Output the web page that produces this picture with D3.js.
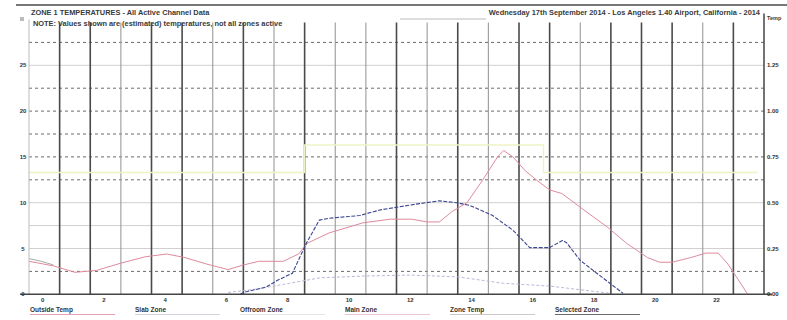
<!DOCTYPE html>
<html>
<head>
<meta charset="utf-8">
<script src="https://cdn.jsdelivr.net/npm/d3@7"></script>
<style>
  body { margin: 0; background: #fff; }
  svg { display: block; font-family: 'Liberation Sans', Arial, sans-serif; }
  .hdr { font-size: 7.4px; font-weight: bold; fill: #3a3a3a; }
  .tick-lbl { font-size: 6px; font-weight: bold; fill: #333; }
  .leg { font-size: 6.5px; font-weight: bold; fill: #333; }
</style>
</head>
<body>
<script>
'use strict';

// hours since start of day
const hourLines = d3.range(1, 24);
const heavyHours = [1, 2, 4, 5, 7, 9, 12, 14, 16, 17, 19, 20, 21, 23];
const hourLabels = ['0', '2', '4', '6', '8', '10', '12', '14', '16', '18', '20', '22'];
const hourLabelPos = [0.45, 2.45, 4.45, 6.45, 8.45, 10.45, 12.45, 14.45, 16.45, 18.45, 20.45, 22.45];

const leftTicks = [0, 5, 10, 15, 20, 25];
const rightTicks = ['0.00', '0.25', '0.50', '0.75', '1.00', '1.25'];
const dashedGrid = [2.5, 12.5, 15, 17.5, 20, 22.5, 27.5];
const lightGrid = [5, 7.5, 10, 25];

const legendNames = ['Outside Temp', 'Slab Zone', 'Offroom Zone', 'Main Zone', 'Zone Temp', 'Selected Zone'];

// series [hour, value]
const outsideTemp = [
  [0.0, 3.6], [0.8, 3.1], [1.5, 2.4], [2.2, 2.6], [3.0, 3.4], [3.8, 4.1], [4.5, 4.4],
  [5.1, 4.0], [5.8, 3.3], [6.5, 2.7], [7.0, 3.2], [7.5, 3.6], [8.3, 3.6], [8.8, 4.4],
  [9.1, 5.6], [9.8, 6.7], [10.9, 7.8], [11.8, 8.2], [12.5, 8.2], [13.0, 7.9], [13.4, 7.9],
  [13.8, 9.0], [14.3, 10.0], [14.8, 12.4], [15.3, 15.0], [15.5, 15.7], [15.8, 15.0],
  [16.2, 13.5], [16.6, 12.4], [17.0, 11.4], [17.4, 11.0], [18.0, 9.5], [18.9, 7.3],
  [19.5, 5.6], [20.2, 4.0], [20.6, 3.5], [21.0, 3.5], [21.6, 4.0], [22.1, 4.5],
  [22.5, 4.5], [22.8, 3.4], [23.1, 1.9], [23.45, 0.1]
];
const mainZone = [
  [6.9, 0.0], [7.0, 0.2], [7.75, 0.8], [8.1, 1.5], [8.6, 2.3], [9.06, 5.6], [9.48, 8.1],
  [9.81, 8.3], [10.8, 8.6], [11.45, 9.2], [12.0, 9.5], [12.75, 9.9], [13.4, 10.2],
  [13.96, 10.0], [14.4, 9.7], [15.14, 8.6], [15.8, 7.0], [16.35, 5.1], [17.0, 5.1],
  [17.43, 5.9], [17.56, 5.6], [18.0, 3.7], [18.54, 2.3], [18.97, 1.2], [19.4, 0.1]
];
const slabZone = [
  [6.5, 0.2], [7.5, 0.6], [8.5, 1.2], [9.5, 1.8], [11.0, 2.0], [12.5, 2.1], [14.0, 1.9],
  [15.5, 1.2], [17.0, 0.9], [18.0, 0.5], [19.0, 0.1]
];
const offroomZone = [[0.0, 3.9], [0.4, 3.6], [0.8, 3.2]];
const zoneTemp = [
  [0.0, 13.3], [9.0, 13.3], [9.0, 16.3], [16.8, 16.3], [16.8, 13.3], [23.8, 13.3]
];

const W = 787, H = 320;
const plot = { left: 29, right: 764, top: 19.5, bottom: 294.3 };

const svg = d3.select('body').append('svg').attr('width', W).attr('height', H);
svg.append('rect').attr('width', W).attr('height', H).attr('fill', '#fff');

const x = d3.scaleLinear().domain([0, 24]).range([plot.left, plot.right]);
const y = d3.scaleLinear().domain([0, 30]).range([plot.bottom, plot.top]);
const yR = d3.scaleLinear().domain([0, 1.5]).range([plot.bottom, plot.top]);

// header
svg.append('line').attr('x1', 16).attr('x2', 787).attr('y1', 5).attr('y2', 5)
  .attr('stroke', '#777').attr('stroke-width', 2);
svg.append('rect').attr('x', 20).attr('y', 17).attr('width', 4).attr('height', 4).attr('fill', '#bbb');
svg.append('text').attr('class', 'hdr').attr('x', 31).attr('y', 15)
  .text('ZONE 1 TEMPERATURES - All Active Channel Data');
svg.append('text').attr('class', 'hdr').attr('x', 33).attr('y', 25.5)
  .text('NOTE: Values shown are (estimated) temperatures, not all zones active');
svg.append('text').attr('class', 'hdr').attr('x', 760).attr('y', 15).attr('text-anchor', 'end')
  .text('Wednesday 17th September 2014 - Los Angeles 1.40 Airport, California - 2014');
svg.append('line').attr('x1', 400).attr('x2', 486).attr('y1', 19).attr('y2', 19).attr('stroke', '#bbb');
svg.append('text').attr('class', 'hdr').attr('x', 767).attr('y', 20).style('font-size', '5.5px').text('Temp');

// grid
const g = svg.append('g');
g.selectAll('line.hl').data(lightGrid).enter().append('line')
  .attr('x1', plot.left).attr('x2', plot.right)
  .attr('y1', d => y(d)).attr('y2', d => y(d))
  .attr('stroke', '#d0d0d0').attr('stroke-width', 1);
g.selectAll('line.hd').data(dashedGrid).enter().append('line')
  .attr('x1', plot.left).attr('x2', plot.right)
  .attr('y1', d => y(d)).attr('y2', d => y(d))
  .attr('stroke', '#6a6a6a').attr('stroke-width', 1).attr('stroke-dasharray', '3,3');
g.selectAll('line.v').data(hourLines).enter().append('line')
  .attr('x1', d => x(d)).attr('x2', d => x(d))
  .attr('y1', plot.top + 3).attr('y2', plot.bottom)
  .attr('stroke', d => heavyHours.includes(d) ? '#4a4a4a' : '#9a9a9a')
  .attr('stroke-width', d => heavyHours.includes(d) ? 1.6 : 1.1);

// series
const line = d3.line().x(d => x(d[0])).y(d => y(d[1]));
const series = [
  { data: zoneTemp, color: '#eef3c6', w: 1.4, dash: null },
  { data: offroomZone, color: '#aaaaaa', w: 1, dash: null },
  { data: slabZone, color: '#bdb7d8', w: 1, dash: '3,2' },
  { data: outsideTemp, color: '#df8a9c', w: 1, dash: null },
  { data: mainZone, color: '#3c4590', w: 1.1, dash: '4,1.5' }
];
series.forEach(s => {
  svg.append('path').datum(s.data).attr('d', line)
    .attr('fill', 'none').attr('stroke', s.color).attr('stroke-width', s.w)
    .attr('stroke-dasharray', s.dash);
});

// axes
svg.append('line').attr('x1', plot.left).attr('x2', plot.left).attr('y1', plot.top).attr('y2', plot.bottom)
  .attr('stroke', '#bbb');
svg.append('line').attr('x1', plot.right).attr('x2', plot.right).attr('y1', plot.top - 6).attr('y2', plot.bottom)
  .attr('stroke', '#444').attr('stroke-width', 1.5);
svg.append('line').attr('x1', 20).attr('x2', 772).attr('y1', plot.bottom).attr('y2', plot.bottom)
  .attr('stroke', '#444').attr('stroke-width', 1.5);

svg.selectAll('text.yl').data(leftTicks).enter().append('text')
  .attr('class', 'tick-lbl').attr('x', 23).attr('y', d => y(d) + 2).attr('text-anchor', 'middle')
  .text(d => d);
svg.selectAll('text.yr').data(rightTicks).enter().append('text')
  .attr('class', 'tick-lbl').attr('x', 767).attr('y', (d, i) => yR(+d) + 2)
  .text(d => d);
svg.selectAll('text.xl').data(hourLabels).enter().append('text')
  .attr('class', 'tick-lbl').attr('x', (d, i) => x(hourLabelPos[i])).attr('y', 302).attr('text-anchor', 'middle')
  .text(d => d);

// legend
const legColors = ['#df8a9c', '#c9c9d6', '#dddddd', '#e9b8c0', '#bbbbbb', '#444444'];
const leg = svg.selectAll('g.leg').data(legendNames).enter().append('g')
  .attr('transform', (d, i) => 'translate(' + (30 + i * 105) + ',312)');
leg.append('text').attr('class', 'leg').attr('x', 0).attr('y', 0).text(d => d);
leg.append('line').attr('x1', 0).attr('x2', 85).attr('y1', 2.5).attr('y2', 2.5)
  .attr('stroke', (d, i) => legColors[i]).attr('stroke-width', 0.8);
</script>
</body>
</html>
